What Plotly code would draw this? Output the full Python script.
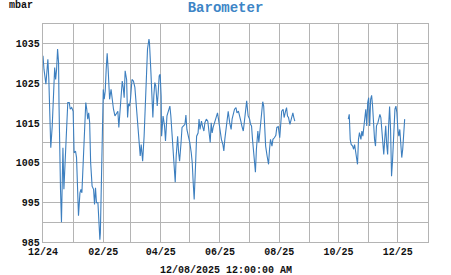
import plotly.graph_objects as go

# Readings (date, mbar); a None breaks the line in the data gap
dates_seg1 = [
    "2024-12-01", "2024-12-02", "2024-12-04", "2024-12-05", "2024-12-06", "2024-12-07",
    "2024-12-08", "2024-12-09", "2024-12-10 12:00", "2024-12-11 12:00", "2024-12-12 12:00",
    "2024-12-13", "2024-12-14", "2024-12-15", "2024-12-16", "2024-12-17", "2024-12-17 12:00",
    "2024-12-18", "2024-12-19", "2024-12-20", "2024-12-21", "2024-12-21 12:00",
    "2024-12-22 12:00", "2024-12-23 12:00", "2024-12-25", "2024-12-26 12:00", "2024-12-28",
    "2024-12-29", "2024-12-30 12:00", "2025-01-01", "2025-01-02", "2025-01-03 12:00",
    "2025-01-04 12:00", "2025-01-05 12:00", "2025-01-06 12:00", "2025-01-08", "2025-01-09",
    "2025-01-10", "2025-01-11", "2025-01-12 12:00", "2025-01-14", "2025-01-15", "2025-01-16",
    "2025-01-17", "2025-01-18", "2025-01-19", "2025-01-20 12:00", "2025-01-22", "2025-01-23",
    "2025-01-24", "2025-01-25", "2025-01-26 12:00", "2025-01-27 12:00", "2025-01-28 12:00",
    "2025-01-29", "2025-01-30", "2025-01-31 12:00", "2025-02-01", "2025-02-02", "2025-02-03",
    "2025-02-04", "2025-02-05", "2025-02-06", "2025-02-07 12:00", "2025-02-09", "2025-02-10",
    "2025-02-11 12:00", "2025-02-13", "2025-02-14 12:00", "2025-02-16", "2025-02-17",
    "2025-02-18", "2025-02-19 12:00", "2025-02-20 12:00", "2025-02-21 12:00",
    "2025-02-22 12:00", "2025-02-23 12:00", "2025-02-25", "2025-02-26", "2025-02-27",
    "2025-02-28", "2025-03-01", "2025-03-02 12:00", "2025-03-04", "2025-03-05 12:00",
    "2025-03-06 12:00", "2025-03-08", "2025-03-10", "2025-03-11", "2025-03-12",
    "2025-03-13 12:00", "2025-03-15", "2025-03-16 12:00", "2025-03-17 12:00",
    "2025-03-18 12:00", "2025-03-20", "2025-03-20 12:00", "2025-03-22", "2025-03-23",
    "2025-03-24", "2025-03-25", "2025-03-26", "2025-03-27", "2025-03-28 12:00",
    "2025-03-29 12:00", "2025-03-30 12:00", "2025-03-31 12:00", "2025-04-01 12:00",
    "2025-04-02", "2025-04-03 12:00", "2025-04-05", "2025-04-06", "2025-04-07 12:00",
    "2025-04-09", "2025-04-10 12:00", "2025-04-11 12:00", "2025-04-12 12:00", "2025-04-14",
    "2025-04-15", "2025-04-16", "2025-04-17", "2025-04-18 12:00", "2025-04-19 12:00",
    "2025-04-20 12:00", "2025-04-22", "2025-04-23", "2025-04-24 12:00", "2025-04-26",
    "2025-04-27", "2025-04-28", "2025-04-29 12:00", "2025-05-01", "2025-05-02 12:00",
    "2025-05-03 12:00", "2025-05-04 12:00", "2025-05-05 12:00", "2025-05-07", "2025-05-08",
    "2025-05-09 12:00", "2025-05-10 12:00", "2025-05-11 12:00", "2025-05-13", "2025-05-14",
    "2025-05-15 12:00", "2025-05-16 12:00", "2025-05-18", "2025-05-19 12:00",
    "2025-05-20 12:00", "2025-05-22", "2025-05-23", "2025-05-24", "2025-05-25",
    "2025-05-26 12:00", "2025-05-28", "2025-05-29 12:00", "2025-05-30 12:00", "2025-06-01",
    "2025-06-02 12:00", "2025-06-04", "2025-06-05", "2025-06-06", "2025-06-07 12:00",
    "2025-06-08 12:00", "2025-06-09 12:00", "2025-06-11", "2025-06-12 12:00",
    "2025-06-13 12:00", "2025-06-15", "2025-06-16", "2025-06-17 12:00", "2025-06-18 12:00",
    "2025-06-20", "2025-06-21 12:00", "2025-06-22 12:00", "2025-06-23 12:00", "2025-06-25",
    "2025-06-26", "2025-06-27 12:00", "2025-06-28 12:00", "2025-06-30", "2025-07-01 12:00",
    "2025-07-02 12:00", "2025-07-03 12:00", "2025-07-04 12:00", "2025-07-06",
    "2025-07-07 12:00", "2025-07-08 12:00", "2025-07-10", "2025-07-11", "2025-07-12",
    "2025-07-13 12:00", "2025-07-15", "2025-07-16", "2025-07-17", "2025-07-18",
    "2025-07-19 12:00", "2025-07-21", "2025-07-22", "2025-07-23", "2025-07-24 12:00",
    "2025-07-25 12:00", "2025-07-27", "2025-07-28 12:00", "2025-07-29 12:00", "2025-07-31",
    "2025-08-01 12:00", "2025-08-02 12:00", "2025-08-03 12:00", "2025-08-05", "2025-08-06",
    "2025-08-07 12:00", "2025-08-08 12:00", "2025-08-09 12:00", "2025-08-10 12:00",
    "2025-08-12", "2025-08-13 12:00", "2025-08-15", "2025-08-16", "2025-08-17",
]
mbar_seg1 = [
    1032, 1028.6, 1024.8, 1029.4, 1031.1, 1026, 1014.3, 1008.8, 1014.3, 1021.9, 1027.8,
    1029, 1026, 1028.6, 1033.7, 1030.3, 1019.3, 1006.7, 998.3, 990, 1000.8, 1008.8,
    998.3, 1003.3, 1014.3, 1020.2, 1020.2, 1018.5, 1018.9, 1018, 1007.5, 1007.9,
    1006.3, 998.3, 991.6, 997.4, 998.3, 997.4, 1004.2, 1013.4, 1020.2, 1018.5, 1016,
    1017.6, 1015.1, 1005, 999.1, 998.3, 994.5, 998.7, 994.9, 994.9, 990.7, 985.6,
    987.3, 1003.3, 1016.8, 1023.5, 1021, 1023.1, 1028.6, 1032.6, 1028.6, 1021, 1023.5,
    1021, 1018.5, 1016.8, 1017.6, 1018, 1013.9, 1017.6, 1021.9, 1025.6, 1024, 1021.4,
    1028.2, 1026, 1016.4, 1019.8, 1019.3, 1021, 1026, 1025.6, 1024, 1021, 1014.3,
    1009.2, 1006.7, 1009.6, 1005.4, 1011.7, 1021.9, 1028.6, 1033.7, 1036.2, 1035.3,
    1027.8, 1020.2, 1016.4, 1021.9, 1025.2, 1024.4, 1019.3, 1022.7, 1026.9, 1027.3,
    1021.9, 1011.7, 1016.8, 1014.3, 1010.5, 1016.8, 1018, 1019.3, 1016.8, 1013.4,
    1008.4, 1005, 1000.1, 1006.7, 1011.7, 1007.5, 1005.4, 1010.1, 1013.9, 1014.3,
    1014.7, 1017, 1013.4, 1011.7, 1010.1, 1007.5, 1005, 999.9, 995.7, 1005, 1011.7,
    1012.5, 1016, 1013.4, 1015.5, 1014.3, 1013, 1015.1, 1016, 1015.5, 1013.4, 1010.1,
    1015.1, 1012.5, 1013.9, 1015.1, 1016.8, 1017.6, 1016, 1013.4, 1010.9, 1009.6, 1008,
    1010.9, 1013.4, 1016, 1018, 1015.1, 1013.4, 1016, 1017.2, 1018.5, 1018.9, 1017.6,
    1018, 1016.8, 1015.5, 1014.3, 1013, 1015.1, 1018.5, 1020.6, 1016.8, 1016, 1014.7,
    1014.3, 1010.9, 1006.7, 1002.6, 1008.4, 1013, 1010.1, 1013, 1016.8, 1020.4, 1019.3,
    1013.4, 1009.2, 1006.7, 1004.6, 1008.4, 1010.9, 1009.2, 1010.9, 1011.3, 1011.9,
    1013.9, 1014.1, 1011.3, 1014.3, 1018, 1018.5, 1016.4, 1018, 1018.9, 1016.8, 1016.4,
    1014.7, 1016, 1017.6, 1016.4, 1015.5,
]
gap_date = ["2025-09-15"]
gap_mbar = [None]
dates_seg2 = [
    "2025-10-11", "2025-10-12", "2025-10-13", "2025-10-14", "2025-10-15 12:00",
    "2025-10-16 12:00", "2025-10-17 12:00", "2025-10-18 12:00", "2025-10-19 12:00",
    "2025-10-20 12:00", "2025-10-21 12:00", "2025-10-22 12:00", "2025-10-24", "2025-10-25",
    "2025-10-26", "2025-10-27", "2025-10-28", "2025-10-29", "2025-10-30", "2025-10-31",
    "2025-11-01", "2025-11-02", "2025-11-03", "2025-11-04", "2025-11-05", "2025-11-06",
    "2025-11-07", "2025-11-08", "2025-11-09", "2025-11-10 12:00", "2025-11-11 12:00",
    "2025-11-12 12:00", "2025-11-13 12:00", "2025-11-14 12:00", "2025-11-15 12:00",
    "2025-11-16 12:00", "2025-11-17 12:00", "2025-11-18 12:00", "2025-11-19 12:00",
    "2025-11-20 12:00", "2025-11-21 12:00", "2025-11-22 12:00", "2025-11-23 12:00",
    "2025-11-24 12:00", "2025-11-25 12:00", "2025-11-26 12:00", "2025-11-28", "2025-11-29",
    "2025-11-30", "2025-12-01", "2025-12-02", "2025-12-03", "2025-12-04", "2025-12-05",
    "2025-12-06", "2025-12-07", "2025-12-08",
]
mbar_seg2 = [
    1016, 1017.2, 1010.9, 1009.6, 1009.2, 1008.4, 1009.6, 1007.5, 1006.3, 1004.6, 1010.9,
    1012.6, 1010.9, 1013, 1011.7, 1014.3, 1016.8, 1018.5, 1014.3, 1020.2, 1021.4, 1014.3,
    1021, 1022, 1019.3, 1014.3, 1010.9, 1009.2, 1014.3, 1015.1, 1016, 1017.2, 1016.4,
    1013.4, 1010.1, 1007.1, 1010.9, 1014.3, 1009.6, 1007.1, 1014.3, 1019.2, 1013.4,
    1001.6, 1005.4, 1010.9, 1018.5, 1019.3, 1017.6, 1013.4, 1011.7, 1013.4, 1010.1,
    1006.3, 1008.4, 1012.6, 1016,
]

y_tick_values = [985, 995, 1005, 1015, 1025, 1035]
y_range = [985, 1040]
x_range = ["2024-12-01", "2026-01-01"]
title_text = "Barometer"
unit_text = "mbar"
timestamp_text = "12/08/2025 12:00:00 AM"

dates = dates_seg1 + gap_date + dates_seg2
mbar = mbar_seg1 + gap_mbar + mbar_seg2

FONT = "Liberation Mono"
GRID = "#b4b4b4"

fig = go.Figure()
fig.add_trace(go.Scatter(
    x=dates, y=mbar, mode="lines", connectgaps=False,
    line=dict(color="#3d7fbf", width=1.1), hoverinfo="skip", showlegend=False,
))

fig.update_layout(
    width=451, height=275,
    margin=dict(l=43, r=23, t=24, b=33),
    paper_bgcolor="white", plot_bgcolor="white",
    font=dict(family=FONT, size=10, color="#111", weight="bold"),
    title=dict(text=title_text, x=0.5, xref="container", y=1 - 7.5 / 275,
               yref="container", xanchor="center", yanchor="middle",
               font=dict(family=FONT, size=14, color="#3d85c6", weight="bold")),
)
fig.update_xaxes(
    type="date", range=x_range, tick0="2024-12-01", dtick="M2", tickformat="%m/%y",
    showgrid=True, gridcolor=GRID, gridwidth=1.3,
    minor=dict(dtick="M1", tick0="2024-12-01", showgrid=True, gridcolor=GRID, gridwidth=1.3),
    showline=True, linecolor=GRID, linewidth=1.3, mirror=True, ticks="",
    zeroline=False, tickfont=dict(family=FONT, size=10, color="#111", weight="bold"),
)
fig.update_yaxes(
    range=y_range, tickvals=y_tick_values,
    showgrid=True, gridcolor=GRID, gridwidth=1.3,
    minor=dict(dtick=5, tick0=985, showgrid=True, gridcolor=GRID, gridwidth=1.3),
    showline=True, linecolor=GRID, linewidth=1.3, mirror=True, ticks="",
    zeroline=False, tickfont=dict(family=FONT, size=10, color="#111", weight="bold"),
)
fig.add_annotation(text=unit_text, xref="paper", yref="paper",
                   x=(21 - 43) / 385, y=(242 - 5.5) / 218, showarrow=False,
                   xanchor="center", yanchor="middle",
                   font=dict(family=FONT, size=10, color="#111", weight="bold"))
fig.add_annotation(text=timestamp_text, xref="paper", yref="paper",
                   x=(226 - 43) / 385, y=(242 - 270) / 218, showarrow=False,
                   xanchor="center", yanchor="middle",
                   font=dict(family=FONT, size=10, color="#111", weight="bold"))

fig.write_html("out.html")
